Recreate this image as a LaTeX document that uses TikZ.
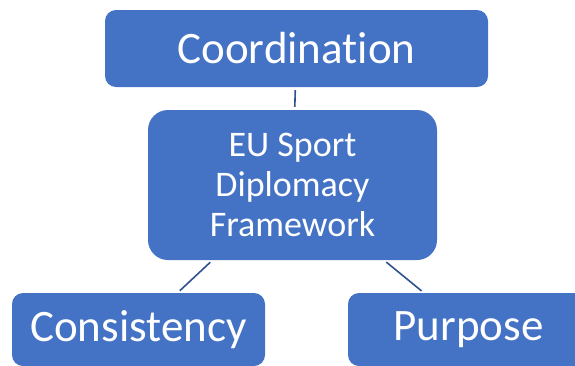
\documentclass[tikz,border=0pt]{standalone}
\usepackage{fontspec}
\setmainfont[Ligatures=NoCommon]{Carlito}
\definecolor{boxblue}{HTML}{4472C4}
\definecolor{lineblue}{HTML}{2F528F}

\begin{document}
\begin{tikzpicture}[x=1pt, y=-1pt,
    box/.style={rectangle, rounded corners=11pt, fill=boxblue, text=white,
        font=\fontsize{45}{54}\selectfont, inner sep=0pt},
    link/.style={lineblue, line width=1.6pt, shorten <=3pt, shorten >=3pt}]
    \useasboundingbox (0,0) rectangle (575,365);
    \node[box, minimum width=383pt, minimum height=77pt] (coord) at (296.5,48.5) {Coordination};
    \node[box, rounded corners=20pt, minimum width=289pt, minimum height=150pt,
        font=\fontsize{36}{40}\selectfont, align=center] (frame) at (292.5,185)
        {EU Sport\\Diplomacy\\Framework};
    \node[box, minimum width=253pt, minimum height=73pt] (cons) at (138.5,329.5) {Consistency};
    \node[box, minimum width=241pt, minimum height=73pt] (purp) at (468.5,329.5) {Purpose};
    \draw[link] (coord) -- (frame);
    \draw[link] (frame) -- (cons);
    \draw[link] (frame) -- (purp);
\end{tikzpicture}
\end{document}
